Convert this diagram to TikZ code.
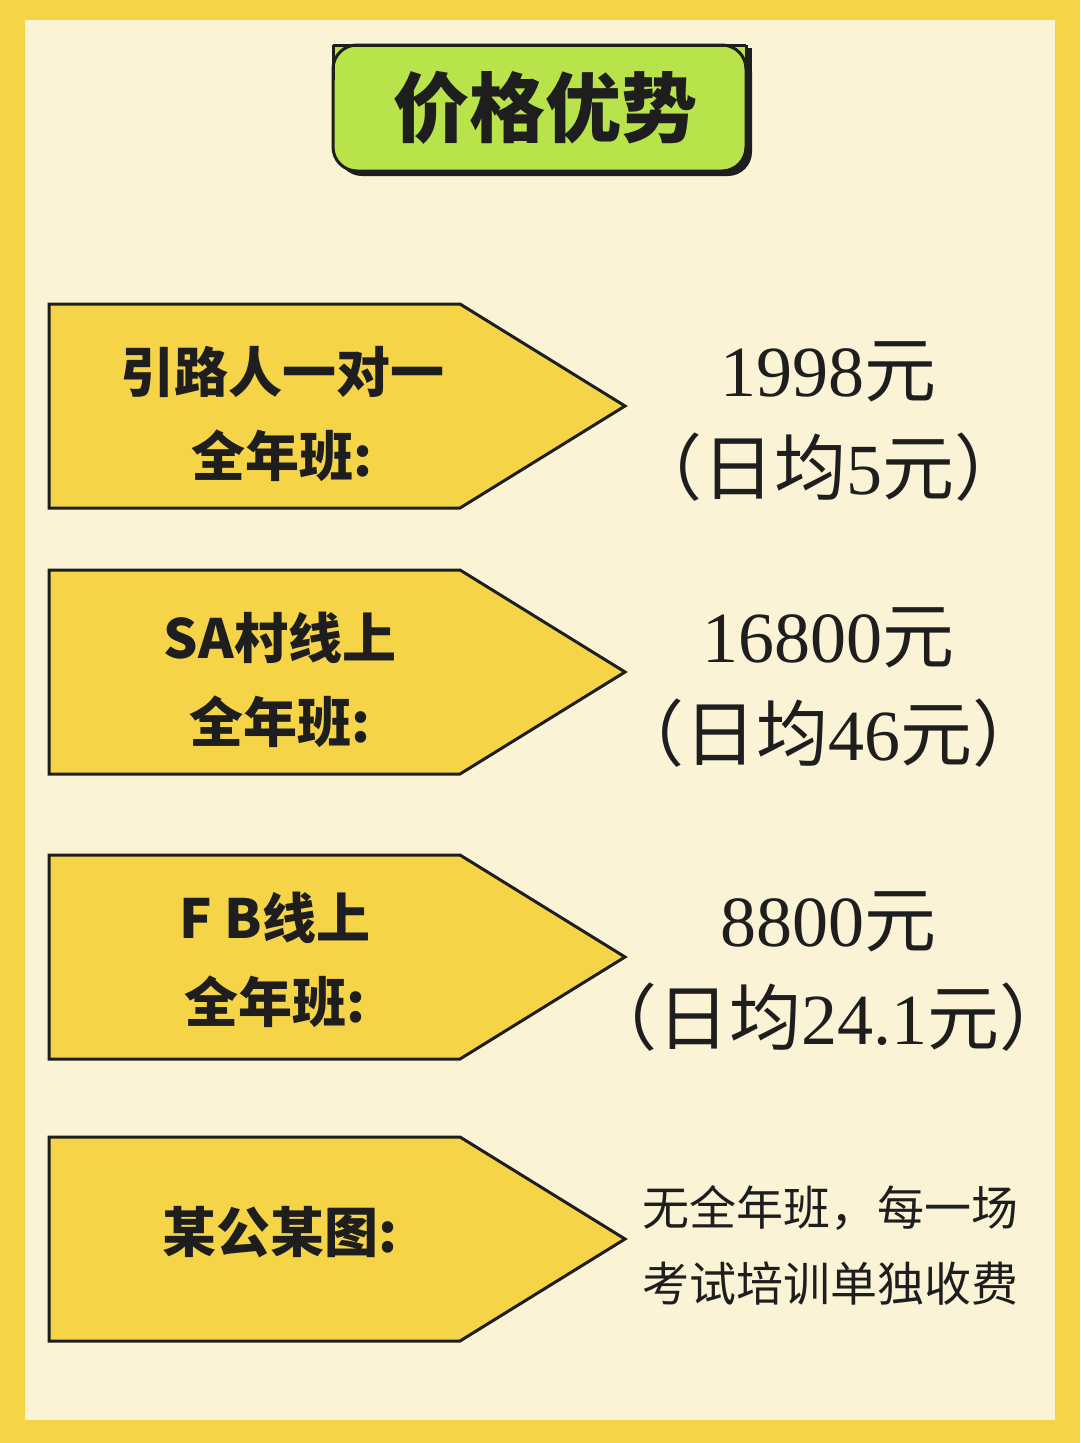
\documentclass[tikz,border=0pt]{standalone}
\usepackage{fontspec}
\newfontfamily\cjk{Noto Sans CJK SC}
\newfontfamily\cjkb{Noto Sans CJK SC Black}
\newfontfamily\numf{Liberation Serif}
\definecolor{outer}{HTML}{F5D547}
\definecolor{cream}{HTML}{FAF3D6}
\definecolor{grn}{HTML}{B8E34A}
\definecolor{ink}{HTML}{1E1E1E}
\tikzset{
  tag/.style={fill=outer,draw=ink,line width=3pt,line join=miter},
  lbl/.style={align=center,font=\cjkb\fontsize{54}{84}\selectfont,text=ink},
  val/.style={align=center,font=\fontsize{72}{98}\selectfont,text=ink},
}
\begin{document}
\begin{tikzpicture}[x=1pt,y=-1pt]
\useasboundingbox (0,0) rectangle (1080,1443);
\fill[outer] (0,0) rectangle (1080,1443);
\fill[cream] (25,20) rectangle (1055,1420);
% title
\fill[ink,rounded corners=24pt] (338,48) -- (752,48) -- (752,176) -- (338,176) -- cycle;
\fill[ink] (338,48) rectangle (752,100);
\fill[grn,rounded corners=24pt] (333,45) -- (746,45) -- (746,171) -- (333,171) -- cycle;
\fill[grn] (333,45) rectangle (746,100);
\draw[ink,line width=3pt,rounded corners=24pt] (333,45) -- (746,45) -- (746,171) -- (333,171) -- cycle;
\draw[ink,line width=3pt] (333,45) -- (746,45) (333,45) -- (333,80) (746,45) -- (746,80);
\node[font=\cjkb\fontsize{76}{80}\selectfont,text=ink] (title) at (545,108) {价格优势};
% tags
\foreach \t/\n in {304/a,570/b,855/c,1137/d}{
  \draw[tag] (49,\t) -- (460,\t) -- (625,\t+102) -- (460,\t+204) -- (49,\t+204) -- cycle;
  \coordinate (\n) at (280,\t+102);
}
\node[lbl] (la) at (282,414) {引路人一对一\\全年班:};
\node[lbl] (lb) at (280,680) {SA村线上\\全年班:};
\node[lbl] (lc) at (275,960) {F B线上\\全年班:};
\node[lbl] (ld) at (280,1232) {某公某图:};
\node[val] (va) at (828,422) {{\numf 1998}{\cjk 元}\\{\cjk （日均}{\numf 5}{\cjk 元）}};
\node[val] (vb) at (828,688) {{\numf 16800}{\cjk 元}\\{\cjk （日均}{\numf 46}{\cjk 元）}};
\node[val] (vc) at (828,972) {{\numf 8800}{\cjk 元}\\{\cjk （日均}{\numf 24.1}{\cjk 元）}};
\node[align=center,font=\cjk\fontsize{47}{76}\selectfont,text=ink] (vd) at (830,1245) {无全年班，每一场\\考试培训单独收费};
\end{tikzpicture}
\end{document}
